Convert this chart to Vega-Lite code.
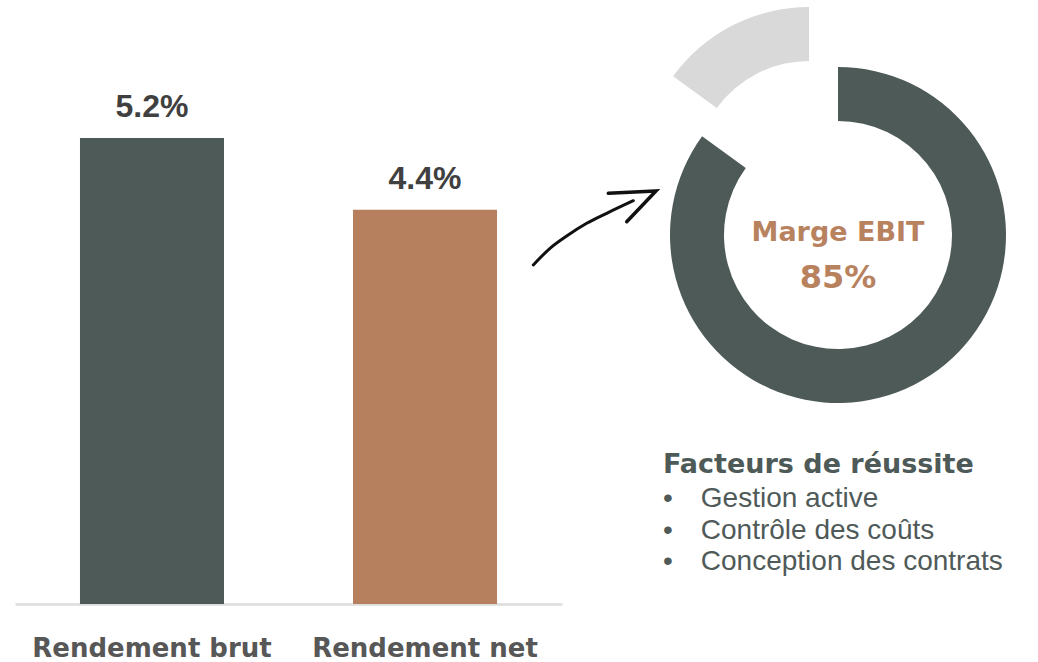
{
  "$schema": "https://vega.github.io/schema/vega-lite/v6.json",
  "background": "white",
  "padding": {"left": 15, "top": 0, "right": 0, "bottom": 0},
  "bounds": "flush",
  "spacing": 78,
  "resolve": {"scale": {"color": "independent"}},
  "config": {"view": {"stroke": null}},
  "datasets": {
    "rendement": [
      {"type": "Rendement brut", "value": 0.052},
      {"type": "Rendement net", "value": 0.044}
    ],
    "marge": [
      {"segment": "Marge EBIT", "share": 0.85, "rank": 1},
      {"segment": "Autres", "share": 0.15, "rank": 2}
    ],
    "trait": [
      {"seq": 1, "x": -106.7, "y": 265},
      {"seq": 2, "x": -90, "y": 248.3},
      {"seq": 3, "x": -73.3, "y": 236},
      {"seq": 4, "x": -53.3, "y": 223.3},
      {"seq": 5, "x": -33.3, "y": 213.3},
      {"seq": 6, "x": -6.7, "y": 200.7}
    ],
    "pointe": [
      {"seq": 1, "x": -31.7, "y": 193.3},
      {"seq": 2, "x": 16, "y": 191},
      {"seq": 3, "x": -13.3, "y": 221.7}
    ]
  },
  "hconcat": [
    {
      "width": 547,
      "height": 604,
      "data": {"name": "rendement"},
      "encoding": {
        "x": {
          "field": "type",
          "type": "nominal",
          "sort": null,
          "scale": {"paddingInner": 0.4725, "paddingOuter": 0.238},
          "axis": {
            "title": null,
            "domain": true,
            "domainColor": "#dcdcdc",
            "domainWidth": 2.5,
            "ticks": false,
            "tickSize": 0,
            "labelPadding": 31.5,
            "labelFont": "DejaVu Sans",
            "labelFontWeight": "bold",
            "labelFontSize": 26,
            "labelColor": "#575757",
            "labelAngle": 0,
            "labelLimit": 400
          }
        },
        "y": {
          "field": "value",
          "type": "quantitative",
          "scale": {"domain": [0, 0.0674], "nice": false},
          "axis": null
        }
      },
      "layer": [
        {
          "mark": {"type": "bar"},
          "encoding": {
            "color": {
              "field": "type",
              "type": "nominal",
              "scale": {"domain": ["Rendement brut", "Rendement net"], "range": ["#4d5a58", "#b67f5d"]},
              "legend": null
            }
          }
        },
        {
          "mark": {
            "type": "text",
            "dy": -21,
            "baseline": "alphabetic",
            "font": "Liberation Sans",
            "fontWeight": "bold",
            "fontSize": 32,
            "color": "#404040"
          },
          "encoding": {
            "text": {"field": "value", "type": "quantitative", "format": ".1%"}
          }
        }
      ]
    },
    {
      "width": 396,
      "height": 470,
      "title": {
        "text": "Facteurs de réussite",
        "subtitle": ["•\u2003Gestion active", "•\u2003Contrôle des coûts", "•\u2003Conception des contrats"],
        "orient": "bottom",
        "anchor": "start",
        "frame": "group",
        "dx": 23,
        "offset": -18,
        "font": "DejaVu Sans",
        "fontWeight": "bold",
        "fontSize": 27,
        "color": "#4d5a58",
        "subtitleFont": "Liberation Sans",
        "subtitleFontWeight": "normal",
        "subtitleFontSize": 28,
        "subtitleColor": "#4f5a59",
        "subtitlePadding": 6,
        "subtitleLineHeight": 31.5
      },
      "layer": [
        {
          "data": {"name": "marge"},
          "mark": {"type": "arc", "innerRadius": 114, "outerRadius": 168, "color": "#4d5a58"},
          "encoding": {
            "theta": {"field": "share", "type": "quantitative", "stack": true},
            "order": {"field": "rank", "type": "quantitative"},
            "detail": {"field": "segment", "type": "nominal"},
            "opacity": {"condition": {"test": "datum.segment === 'Marge EBIT'", "value": 1}, "value": 0}
          }
        },
        {
          "data": {"name": "marge"},
          "mark": {"type": "arc", "innerRadius": 114, "outerRadius": 168, "xOffset": -29, "yOffset": -60, "color": "#d9d9d9"},
          "encoding": {
            "theta": {"field": "share", "type": "quantitative", "stack": true},
            "order": {"field": "rank", "type": "quantitative"},
            "detail": {"field": "segment", "type": "nominal"},
            "opacity": {"condition": {"test": "datum.segment === 'Autres'", "value": 1}, "value": 0}
          }
        },
        {
          "data": {"name": "marge"},
          "transform": [{"filter": "datum.segment === 'Marge EBIT'"}],
          "mark": {
            "type": "text",
            "font": "DejaVu Sans",
            "fontWeight": "bold",
            "fontSize": 27,
            "color": "#b8825f",
            "baseline": "alphabetic",
            "dy": 6
          },
          "encoding": {"text": {"field": "segment", "type": "nominal"}}
        },
        {
          "data": {"name": "marge"},
          "transform": [{"filter": "datum.segment === 'Marge EBIT'"}],
          "mark": {
            "type": "text",
            "font": "DejaVu Sans",
            "fontWeight": "bold",
            "fontSize": 32,
            "color": "#b8825f",
            "baseline": "alphabetic",
            "dy": 53
          },
          "encoding": {"text": {"field": "share", "type": "quantitative", "format": ".0%"}}
        },
        {
          "data": {"name": "trait"},
          "mark": {"type": "line", "interpolate": "monotone", "color": "#111111", "strokeWidth": 3, "strokeCap": "round"},
          "encoding": {
            "x": {"field": "x", "type": "quantitative", "scale": {"domain": [0, 396], "nice": false, "zero": false}, "axis": null},
            "y": {"field": "y", "type": "quantitative", "scale": {"domain": [0, 470], "nice": false, "zero": false, "reverse": true}, "axis": null},
            "order": {"field": "seq", "type": "quantitative"}
          }
        },
        {
          "data": {"name": "pointe"},
          "mark": {"type": "line", "color": "#111111", "strokeWidth": 3.5, "strokeCap": "round", "strokeJoin": "miter"},
          "encoding": {
            "x": {"field": "x", "type": "quantitative", "scale": {"domain": [0, 396], "nice": false, "zero": false}, "axis": null},
            "y": {"field": "y", "type": "quantitative", "scale": {"domain": [0, 470], "nice": false, "zero": false, "reverse": true}, "axis": null},
            "order": {"field": "seq", "type": "quantitative"}
          }
        }
      ]
    }
  ]
}
